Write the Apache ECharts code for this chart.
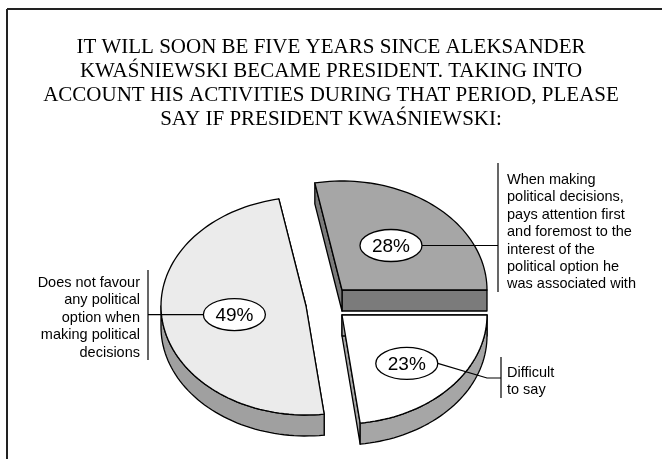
<!DOCTYPE html>
<html>
<head>
<meta charset="utf-8">
<script src="https://cdn.jsdelivr.net/npm/echarts@6/dist/echarts.min.js"></script>
<style>
  html, body { margin: 0; padding: 0; background: #fff; }
  #chart { width: 662px; height: 459px; }
</style>
</head>
<body>
<div id="chart"></div>
<script>
// Question text, one entry per printed line
const titleLines = [
  'IT WILL SOON BE FIVE YEARS SINCE ALEKSANDER',
  'KWAŚNIEWSKI BECAME PRESIDENT. TAKING INTO',
  'ACCOUNT HIS ACTIVITIES DURING THAT PERIOD, PLEASE',
  'SAY IF PRESIDENT KWAŚNIEWSKI:'
];

// Answers, in counter-clockwise order starting at 3 o'clock
const categories = [
  'When making political decisions, pays attention first and foremost to the interest of the political option he was associated with',
  'Does not favour any political option when making political decisions',
  'Difficult to say'
];
const shares = [28, 49, 23];

// Callout text, broken into lines
const categoryLines = [
  ['When making', 'political decisions,', 'pays attention first', 'and foremost to the', 'interest of the', 'political option he', 'was associated with'],
  ['Does not favour', 'any political', 'option when', 'making political', 'decisions'],
  ['Difficult', 'to say']
];

// ---- styling / layout ----
const PIE_CX = 330, PIE_CY = 304;   // pie centre
const RX = 145, RY = 109;            // ellipse radii of the tilted top face
const DEPTH = 21;                    // thickness of the disc
const explode = [[12, -14], [-24, 2], [12, 11]];
const topColors = ['#a6a6a6', '#ebebeb', '#ffffff'];
const sideColors = ['#6b6b6b', '#a0a0a0', '#a6a6a6'];
const wallColors = ['#7b7b7b', '#a0a0a0', '#a6a6a6'];
const labelRadius = [0.53, 0.5, 0.63];
const labelShift = [0, 0, -0.06];    // small angular nudge of the bubble (radians)
const callouts = [
  { side: 'right', barX: 498, barTop: 163, barBottom: 292, textX: 507, firstY: 180 },
  { side: 'left',  barX: 148, barTop: 270, barBottom: 360, textX: 140, firstY: 283 },
  { side: 'right', barX: 501, barTop: 357, barBottom: 398, textX: 507, firstY: 373, elbow: [487, 378] }
];
const LINE_H = 17.4;
const EDGE = '#000';

const total = shares.reduce((a, b) => a + b, 0);
const startAngles = [];
{
  let acc = 0;
  shares.forEach(v => { startAngles.push(acc / total * Math.PI * 2); acc += v; });
}

function pt(cx, cy, t, dy) {
  return [cx + RX * Math.cos(t), cy - RY * Math.sin(t) + (dy || 0)];
}
function arc(cx, cy, a0, a1, dy) {
  const n = Math.max(2, Math.ceil(Math.abs(a1 - a0) / (Math.PI / 90)));
  const out = [];
  for (let i = 0; i <= n; i++) out.push(pt(cx, cy, a0 + (a1 - a0) * i / n, dy));
  return out;
}

function renderSlice(params, api) {
  const i = params.dataIndex;
  const value = api.value(0);
  const a0 = startAngles[i];
  const a1 = a0 + value / total * Math.PI * 2;
  const cx = PIE_CX + explode[i][0];
  const cy = PIE_CY + explode[i][1];
  const children = [];
  const edgeStyle = { stroke: EDGE, lineWidth: 1.3, lineJoin: 'round' };

  // radial walls
  [a0, a1].forEach(a => {
    const p = pt(cx, cy, a);
    children.push({
      type: 'polygon',
      shape: { points: [[cx, cy], p, [p[0], p[1] + DEPTH], [cx, cy + DEPTH]] },
      style: Object.assign({ fill: wallColors[i] }, edgeStyle)
    });
  });

  // curved outer wall (front half only)
  const s = Math.max(a0, Math.PI), e = Math.min(a1, Math.PI * 2);
  if (s < e) {
    const top = arc(cx, cy, s, e, 0);
    const bottom = arc(cx, cy, e, s, DEPTH);
    children.push({
      type: 'polygon',
      shape: { points: top.concat(bottom) },
      style: Object.assign({ fill: sideColors[i] }, edgeStyle)
    });
  }

  // top face
  children.push({
    type: 'polygon',
    shape: { points: [[cx, cy]].concat(arc(cx, cy, a0, a1, 0)) },
    style: Object.assign({ fill: topColors[i] }, edgeStyle)
  });

  // value bubble
  const mid = (a0 + a1) / 2 + labelShift[i];
  const lx = cx + labelRadius[i] * RX * Math.cos(mid);
  const ly = cy - labelRadius[i] * RY * Math.sin(mid);
  const c = callouts[i];
  const startX = c.side === 'right' ? lx + 31 : lx - 31;
  const leaderPts = c.elbow
    ? [[startX, ly], c.elbow, [c.barX, c.elbow[1]]]
    : [[startX, ly], [c.barX, ly]];
  children.push({
    type: 'polyline',
    shape: { points: leaderPts },
    style: { stroke: EDGE, lineWidth: 1.2, fill: null }
  });
  children.push({
    type: 'line',
    shape: { x1: c.barX, y1: c.barTop, x2: c.barX, y2: c.barBottom },
    style: { stroke: EDGE, lineWidth: 1.2 }
  });
  children.push({
    type: 'ellipse',
    shape: { cx: lx, cy: ly, rx: 31, ry: 16 },
    style: { fill: '#fff', stroke: EDGE, lineWidth: 1.3 }
  });
  children.push({
    type: 'text',
    style: {
      text: value + '%', x: lx, y: ly + 1,
      textAlign: 'center', textVerticalAlign: 'middle',
      fontFamily: 'Liberation Sans', fontSize: 19, fill: '#000'
    }
  });

  // callout text
  categoryLines[i].forEach((line, k) => {
    children.push({
      type: 'text',
      style: {
        text: line, x: c.textX, y: c.firstY + k * LINE_H,
        textAlign: c.side === 'right' ? 'left' : 'right',
        textVerticalAlign: 'middle',
        fontFamily: 'Liberation Sans', fontSize: 14.5, fill: '#000'
      }
    });
  });

  return { type: 'group', children };
}

const chart = echarts.init(document.getElementById('chart'), null, { renderer: 'canvas' });
chart.setOption({
  backgroundColor: '#fff',
  animation: false,
  title: {
    text: titleLines.join('\n'),
    left: 'center',
    top: 35,
    padding: 0,
    textStyle: {
      fontFamily: 'Liberation Serif',
      fontSize: 21,
      fontWeight: 'normal',
      lineHeight: 24,
      color: '#000'
    }
  },
  graphic: [
    { type: 'line', shape: { x1: 7, y1: 9, x2: 662, y2: 9 }, style: { stroke: '#222', lineWidth: 2 } },
    { type: 'line', shape: { x1: 7, y1: 9, x2: 7, y2: 459 }, style: { stroke: '#222', lineWidth: 2 } }
  ],
  series: [{
    type: 'custom',
    coordinateSystem: 'none',
    renderItem: renderSlice,
    data: shares.map((v, i) => ({ name: categories[i], value: [v] }))
  }]
});
</script>
</body>
</html>
